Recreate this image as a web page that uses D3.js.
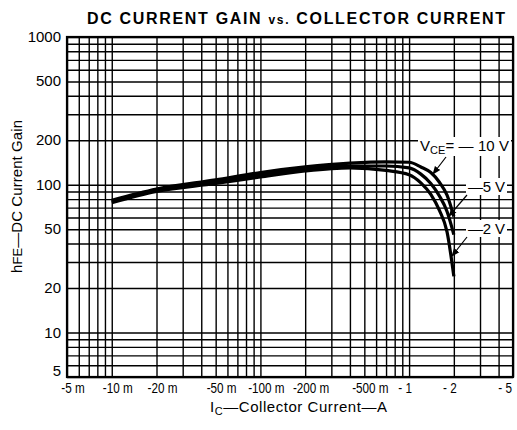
<!DOCTYPE html>
<html>
<head>
<meta charset="utf-8">
<script src="https://cdn.jsdelivr.net/npm/d3@7"></script>
<style>
  body { margin: 0; background: #fff; }
  text { font-family: "Liberation Sans", Arial, sans-serif; fill: #000; }
</style>
</head>
<body>
<div id="container"></div>
<script>
/* DATA */
const currentA = [0.01, 0.02, 0.05, 0.1, 0.2, 0.4, 0.7, 1, 1.2, 1.4, 1.6, 1.8, 2];
const gainVce10 = [78.5, 93.5, 108, 121, 132, 140, 143, 142, 132, 121, 104, 85, 61];
const gainVce5  = [77, 92, 105, 117, 128, 134, 134, 130, 118, 102, 84, 66, 46];
const gainVce2  = [75.5, 90, 102, 113, 124, 130, 125, 117, 103, 86, 67, 48, 24];

const xTickValues = [0.005, 0.01, 0.02, 0.05, 0.1, 0.2, 0.5, 1, 2, 5];
const xTickLabels = ["-5 m", "-10 m", "-20 m", "-50 m", "-100 m", "-200 m", "-500 m", "- 1", "- 2", "- 5"];
const yTickValues = [5, 10, 20, 50, 100, 200, 500, 1000];

const xGridValues = [0.005, 0.006, 0.007, 0.008, 0.009,
  0.01, 0.02, 0.03, 0.04, 0.05, 0.06, 0.07, 0.08, 0.09,
  0.1, 0.2, 0.3, 0.4, 0.5, 0.6, 0.7, 0.8, 0.9,
  1, 2, 3, 4, 5];
const yGridValues = [5, 6, 7, 8, 9,
  10, 20, 30, 40, 50, 60, 70, 80, 90,
  100, 200, 300, 400, 500, 600, 700, 800, 900, 1000];

/* CONSTANTS */
const width = 517,
      height = 430,
      plotL = 67, plotR = 513, plotT = 37, plotB = 377;

const svg = d3.select("#container")
  .append("svg")
  .attr("width", width)
  .attr("height", height);

const xScale = d3.scaleLog().domain([0.005, 5]).range([plotL, plotR]);
const yScale = d3.scaleLog().domain([5, 1000]).range([plotB, plotT]);

// grid
svg.append("g")
  .attr("transform", "translate(0," + plotB + ")")
  .call(d3.axisBottom(xScale).tickValues(xGridValues).tickSize(-(plotB - plotT)).tickFormat(""))
  .call(g => g.select(".domain").remove())
  .selectAll("line").attr("stroke", "#000").attr("stroke-width", 1.4);

svg.append("g")
  .attr("transform", "translate(" + plotL + ",0)")
  .call(d3.axisLeft(yScale).tickValues(yGridValues).tickSize(-(plotR - plotL)).tickFormat(""))
  .call(g => g.select(".domain").remove())
  .selectAll("line").attr("stroke", "#000").attr("stroke-width", 1.4);

// frame
svg.append("rect")
  .attr("x", plotL).attr("y", plotT)
  .attr("width", plotR - plotL).attr("height", plotB - plotT)
  .attr("fill", "none").attr("stroke", "#000").attr("stroke-width", 2.2);

// tick labels
svg.append("g").selectAll("text")
  .data(yTickValues)
  .enter().append("text")
  .attr("x", 61)
  .attr("y", d => yScale(d) + (d === 5 ? -1 : 5))
  .attr("text-anchor", "end")
  .style("font-size", "15px")
  .text(d => d);

// x labels: narrowed so the digits stay roughly centred on their lines
svg.append("g").selectAll("text")
  .data(xTickValues)
  .enter().append("text")
  .attr("x", (d, i) => xScale(d) + (xTickLabels[i].endsWith("m") ? 6 : -4))
  .attr("y", 393)
  .attr("text-anchor", "middle")
  .style("font-size", "15px")
  .text((d, i) => xTickLabels[i])
  .each(function() {
    const w = this.getComputedTextLength() * 0.78;
    const sel = d3.select(this).attr("textLength", w).attr("lengthAdjust", "spacingAndGlyphs");
    const x = +sel.attr("x");
    if (x + w / 2 > width - 5) sel.attr("x", width - 5 - w / 2);
  });

// title
const title = svg.append("text")
  .attr("x", 87).attr("y", 24)
  .attr("textLength", 418).attr("lengthAdjust", "spacing")
  .style("font-size", "16px").style("font-weight", "bold");
title.append("tspan").text("DC CURRENT GAIN ");
title.append("tspan").style("font-size", "12px").text("vs.");
title.append("tspan").text(" COLLECTOR CURRENT");

// x title
const xt = svg.append("text")
  .attr("x", 210).attr("y", 412)
  .attr("textLength", 177).attr("lengthAdjust", "spacing")
  .style("font-size", "15px");
xt.append("tspan").text("I");
xt.append("tspan").attr("dy", 3).style("font-size", "11px").text("C");
xt.append("tspan").attr("dy", -3).text("—Collector Current—A");

// y title
const yt = svg.append("text")
  .attr("transform", "translate(22,273) rotate(-90)")
  .attr("textLength", 153).attr("lengthAdjust", "spacing")
  .style("font-size", "15px");
yt.append("tspan").text("h");
yt.append("tspan").style("font-size", "13px").text("FE");
yt.append("tspan").text("—DC Current Gain");

// curves
const series = [gainVce10, gainVce5, gainVce2];
const line = d3.line()
  .x((d, i) => xScale(currentA[i]))
  .y(d => yScale(d))
  .curve(d3.curveMonotoneX);

svg.append("g").selectAll("path")
  .data(series)
  .enter().append("path")
  .attr("d", d => line(d))
  .attr("fill", "none")
  .attr("stroke", "#000")
  .attr("stroke-width", 3.2)
  .attr("stroke-linecap", "butt");

// labels with arrows
svg.append("defs").append("marker")
  .attr("id", "arr")
  .attr("viewBox", "0 0 10 10")
  .attr("refX", 9).attr("refY", 5)
  .attr("markerWidth", 7).attr("markerHeight", 7)
  .attr("orient", "auto")
  .append("path").attr("d", "M0,1 L10,5 L0,9 Z").attr("fill", "#000");

function label(x, y, parts, len) {
  const g = svg.append("g");
  const t = g.append("text").attr("x", x).attr("y", y)
    .attr("textLength", len).attr("lengthAdjust", "spacing")
    .style("font-size", "15px");
  parts.forEach(p => {
    const s = t.append("tspan").text(p.t);
    if (p.sub) s.attr("dy", 3).style("font-size", "11px");
    if (p.back) s.attr("dy", -3);
  });
  const b = t.node().getBBox();
  g.insert("rect", "text")
    .attr("x", b.x - 2).attr("y", b.y)
    .attr("width", b.width + 4).attr("height", b.height)
    .attr("fill", "#fff");
}

label(420, 151, [{t: "V"}, {t: "CE", sub: true}, {t: "= — 10 V", back: true}], 89);
label(468, 192, [{t: "—5  V"}], 37);
label(468, 234, [{t: "—2  V"}], 37);

const arrows = [[446, 157, 433, 174], [467, 195, 449, 216], [467, 237, 452, 256]];
svg.append("g").selectAll("line")
  .data(arrows)
  .enter().append("line")
  .attr("x1", d => d[0]).attr("y1", d => d[1])
  .attr("x2", d => d[2]).attr("y2", d => d[3])
  .attr("stroke", "#000").attr("stroke-width", 1.2)
  .attr("marker-end", "url(#arr)");
</script>
</body>
</html>
